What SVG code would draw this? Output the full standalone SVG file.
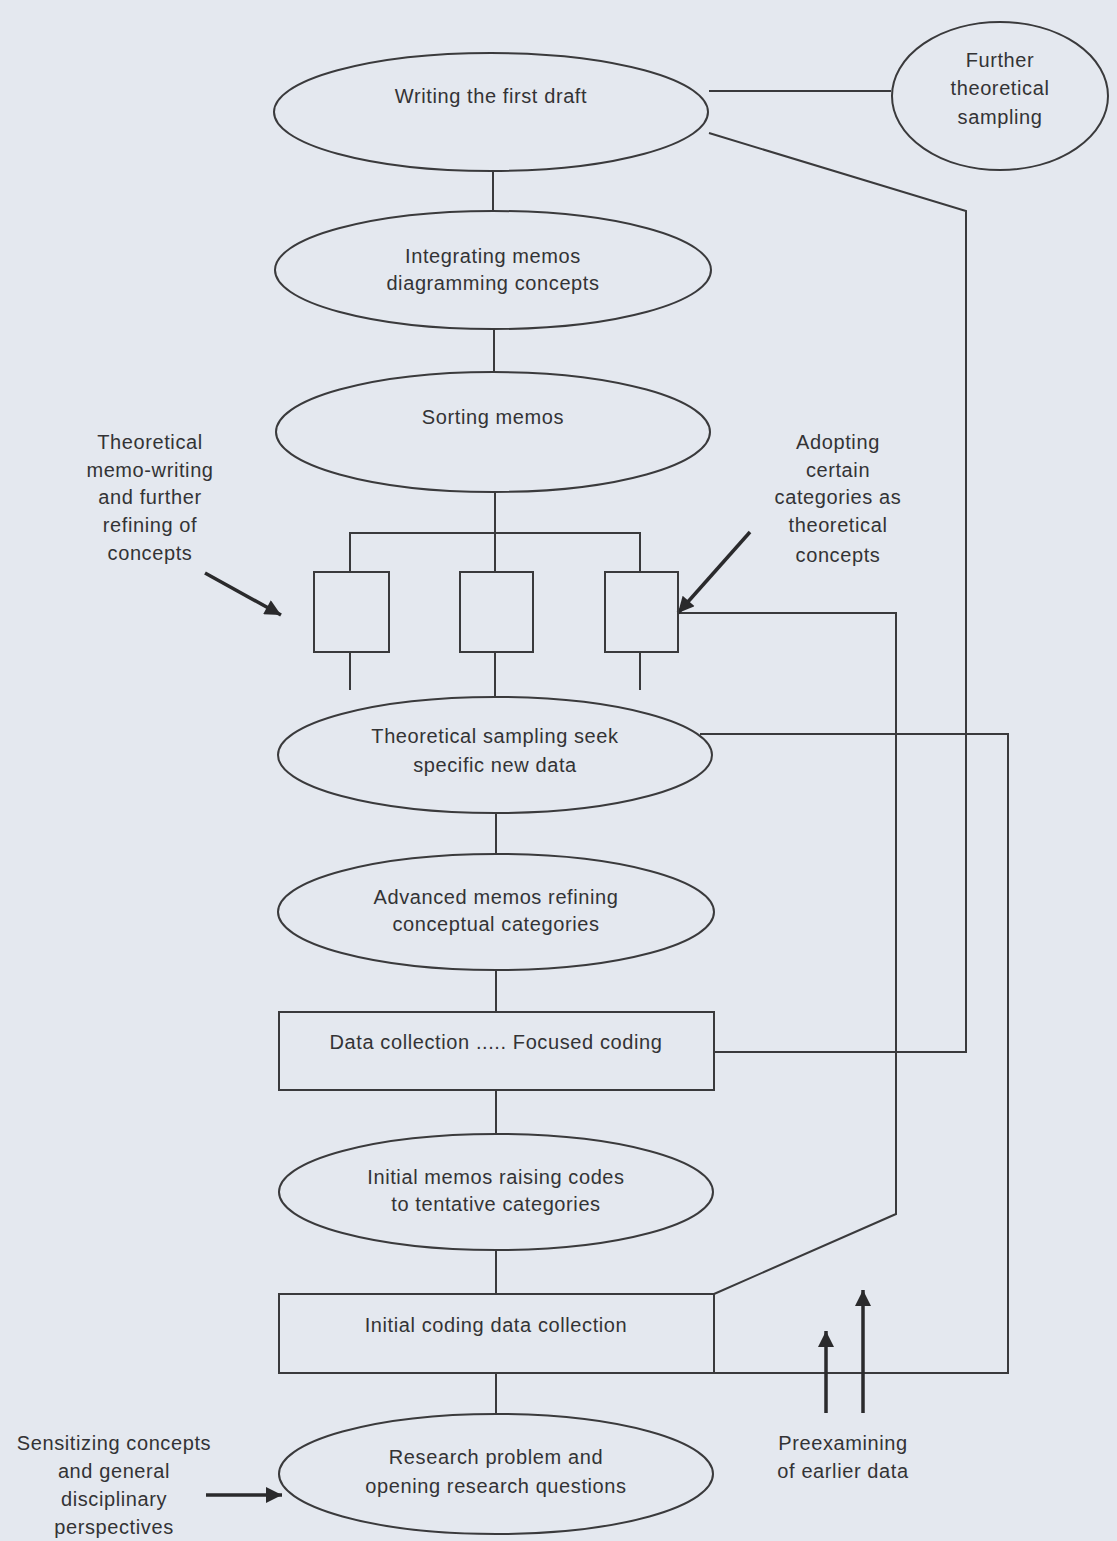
<svg xmlns="http://www.w3.org/2000/svg" width="1117" height="1541" viewBox="0 0 1117 1541">
  <style>
    .bg { fill: #e4e8ef; }
    .shape { fill: none; stroke: #3a3a3c; stroke-width: 2; }
    .wire { fill: none; stroke: #3a3a3c; stroke-width: 2; }
    .pointer { fill: none; stroke: #2a2a2c; stroke-width: 3.5; }
    .label { font-family: "Liberation Sans", Arial, sans-serif; font-size: 20px; fill: #333335; text-anchor: middle; letter-spacing: 0.6px; }
  </style>
  <defs>
    <marker id="head" viewBox="0 0 10 10" refX="10" refY="5" markerWidth="18" markerHeight="16" markerUnits="userSpaceOnUse" orient="auto">
      <path d="M0,0 L10,5 L0,10 z" fill="#2a2a2c"/>
    </marker>
  </defs>

  <rect class="bg" x="0" y="0" width="1117" height="1541"/>

  <!-- connectors -->
  <g id="connectors">
    <!-- vertical spine -->
    <line class="wire" x1="493" y1="171" x2="493" y2="211"/>
    <line class="wire" x1="494" y1="329" x2="494" y2="372"/>
    <line class="wire" x1="495" y1="491" x2="495" y2="533"/>
    <!-- fan-out to the three category boxes -->
    <polyline class="wire" points="350,572 350,533 640,533 640,572"/>
    <line class="wire" x1="495" y1="533" x2="495" y2="572"/>
    <line class="wire" x1="350" y1="652" x2="350" y2="690"/>
    <line class="wire" x1="495" y1="652" x2="495" y2="697"/>
    <line class="wire" x1="640" y1="652" x2="640" y2="690"/>
    <line class="wire" x1="496" y1="813" x2="496" y2="855"/>
    <line class="wire" x1="496" y1="970" x2="496" y2="1012"/>
    <line class="wire" x1="496" y1="1090" x2="496" y2="1135"/>
    <line class="wire" x1="496" y1="1250" x2="496" y2="1294"/>
    <line class="wire" x1="496" y1="1373" x2="496" y2="1415"/>

    <!-- first draft to further sampling -->
    <line class="wire" x1="709" y1="91" x2="891" y2="91"/>
    <!-- first draft loop back to focused coding -->
    <polyline class="wire" points="709,133 966,211 966,1052 714,1052"/>
    <!-- category box loop back to initial coding -->
    <polyline class="wire" points="678,613 896,613 896,1214 714,1294"/>
    <!-- theoretical sampling loop back to initial coding -->
    <polyline class="wire" points="700,734 1008,734 1008,1373 714,1373"/>

    <!-- annotation arrows -->
    <line class="pointer" x1="205" y1="573" x2="281" y2="615" marker-end="url(#head)"/>
    <line class="pointer" x1="750" y1="532" x2="678" y2="613" marker-end="url(#head)"/>
    <line class="pointer" x1="206" y1="1495" x2="282" y2="1495" marker-end="url(#head)"/>
    <line class="pointer" x1="826" y1="1413" x2="826" y2="1331" marker-end="url(#head)"/>
    <line class="pointer" x1="863" y1="1413" x2="863" y2="1290" marker-end="url(#head)"/>
  </g>

  <g id="first-draft">
    <ellipse class="shape" cx="491" cy="112" rx="217" ry="59"/>
    <text class="label" x="491" y="103">Writing the first draft</text>
  </g>

  <g id="further-sampling">
    <ellipse class="shape" cx="1000" cy="96" rx="108" ry="74"/>
    <text class="label" x="1000" y="67">Further</text>
    <text class="label" x="1000" y="95">theoretical</text>
    <text class="label" x="1000" y="124">sampling</text>
  </g>

  <g id="integrating-memos">
    <ellipse class="shape" cx="493" cy="270" rx="218" ry="59"/>
    <text class="label" x="493" y="263">Integrating memos</text>
    <text class="label" x="493" y="290">diagramming concepts</text>
  </g>

  <g id="sorting-memos">
    <ellipse class="shape" cx="493" cy="432" rx="217" ry="60"/>
    <text class="label" x="493" y="424">Sorting memos</text>
  </g>

  <g id="category-1">
    <rect class="shape" x="314" y="572" width="75" height="80"/>
  </g>
  <g id="category-2">
    <rect class="shape" x="460" y="572" width="73" height="80"/>
  </g>
  <g id="category-3">
    <rect class="shape" x="605" y="572" width="73" height="80"/>
  </g>

  <g id="memo-writing-note">
    <text class="label" x="150" y="449">Theoretical</text>
    <text class="label" x="150" y="477">memo-writing</text>
    <text class="label" x="150" y="504">and further</text>
    <text class="label" x="150" y="532">refining of</text>
    <text class="label" x="150" y="560">concepts</text>
  </g>

  <g id="adopting-note">
    <text class="label" x="838" y="449">Adopting</text>
    <text class="label" x="838" y="477">certain</text>
    <text class="label" x="838" y="504">categories as</text>
    <text class="label" x="838" y="532">theoretical</text>
    <text class="label" x="838" y="562">concepts</text>
  </g>

  <g id="theoretical-sampling">
    <ellipse class="shape" cx="495" cy="755" rx="217" ry="58"/>
    <text class="label" x="495" y="743">Theoretical sampling seek</text>
    <text class="label" x="495" y="772">specific new data</text>
  </g>

  <g id="advanced-memos">
    <ellipse class="shape" cx="496" cy="912" rx="218" ry="58"/>
    <text class="label" x="496" y="904">Advanced memos refining</text>
    <text class="label" x="496" y="931">conceptual categories</text>
  </g>

  <g id="focused-coding">
    <rect class="shape" x="279" y="1012" width="435" height="78"/>
    <text class="label" x="496" y="1049">Data collection ..... Focused coding</text>
  </g>

  <g id="initial-memos">
    <ellipse class="shape" cx="496" cy="1192" rx="217" ry="58"/>
    <text class="label" x="496" y="1184">Initial memos raising codes</text>
    <text class="label" x="496" y="1211">to tentative categories</text>
  </g>

  <g id="initial-coding">
    <rect class="shape" x="279" y="1294" width="435" height="79"/>
    <text class="label" x="496" y="1332">Initial coding data collection</text>
  </g>

  <g id="research-problem">
    <ellipse class="shape" cx="496" cy="1474" rx="217" ry="60"/>
    <text class="label" x="496" y="1464">Research problem and</text>
    <text class="label" x="496" y="1493">opening research questions</text>
  </g>

  <g id="sensitizing-note">
    <text class="label" x="114" y="1450">Sensitizing concepts</text>
    <text class="label" x="114" y="1478">and general</text>
    <text class="label" x="114" y="1506">disciplinary</text>
    <text class="label" x="114" y="1534">perspectives</text>
  </g>

  <g id="preexamining-note">
    <text class="label" x="843" y="1450">Preexamining</text>
    <text class="label" x="843" y="1478">of earlier data</text>
  </g>
</svg>
